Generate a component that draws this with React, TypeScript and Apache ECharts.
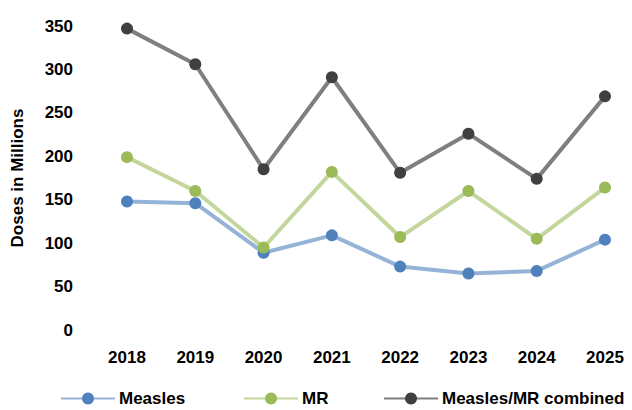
import React, { useEffect, useRef } from "react";
import * as echarts from "echarts";

const years = ["2018", "2019", "2020", "2021", "2022", "2023", "2024", "2025"];
const measles = [148, 146, 89, 109, 73, 65, 68, 104];
const mr = [199, 160, 95, 182, 107, 160, 105, 164];
const combined = [347, 306, 185, 291, 181, 226, 174, 269];
const yTicks = [0, 50, 100, 150, 200, 250, 300, 350];

const FONT = "'Liberation Sans', Arial, sans-serif";

export default function App() {
  const ref = useRef<HTMLDivElement>(null);
  useEffect(() => {
    document.body.style.margin = "0";
    const chart = echarts.init(ref.current!, null, { renderer: "svg" });
    const textStyle = { fontFamily: FONT, fontWeight: "bold" as const, fontSize: 17, color: "#000" };
    const mk = (name: string, data: number[], line: string, marker: string, z: number) => ({
      name,
      type: "line" as const,
      data,
      symbol: "circle",
      symbolSize: 12,
      z,
      lineStyle: { color: line, width: 4 },
      itemStyle: { color: marker },
    });
    const legendBase = {
      top: 390,
      itemWidth: 54,
      itemHeight: 15,
      padding: 0,
      textStyle: { ...textStyle, padding: [0, 0, 0, -1] },
      selectedMode: false as const,
    };
    chart.setOption({
      animation: false,
      grid: { left: 127, right: 27, top: 26, bottom: 80 },
      xAxis: {
        type: "category",
        data: years,
        boundaryGap: false,
        axisLine: { show: false },
        axisTick: { show: false },
        axisLabel: { ...textStyle, margin: 19 },
      },
      yAxis: {
        type: "value",
        min: yTicks[0],
        max: yTicks[yTicks.length - 1],
        interval: 50,
        name: "Doses in Millions",
        nameLocation: "middle",
        nameGap: 101,
        nameTextStyle: { ...textStyle },
        axisLine: { show: false },
        axisTick: { show: false },
        splitLine: { show: false },
        axisLabel: { ...textStyle, margin: 54 },
      },
      legend: [
        { ...legendBase, left: 60, data: ["Measles"] },
        { ...legendBase, left: 243, data: ["MR"] },
        { ...legendBase, left: 383, data: ["Measles/MR combined"] },
      ],
      series: [
        mk("Measles", measles, "#95b3d7", "#4f81bd", 3),
        mk("MR", mr, "#c3d69b", "#9bbb59", 4),
        mk("Measles/MR combined", combined, "#7f7f7f", "#404040", 5),
      ],
    });
    return () => chart.dispose();
  }, []);
  return <div ref={ref} style={{ width: 632, height: 410 }} />;
}
